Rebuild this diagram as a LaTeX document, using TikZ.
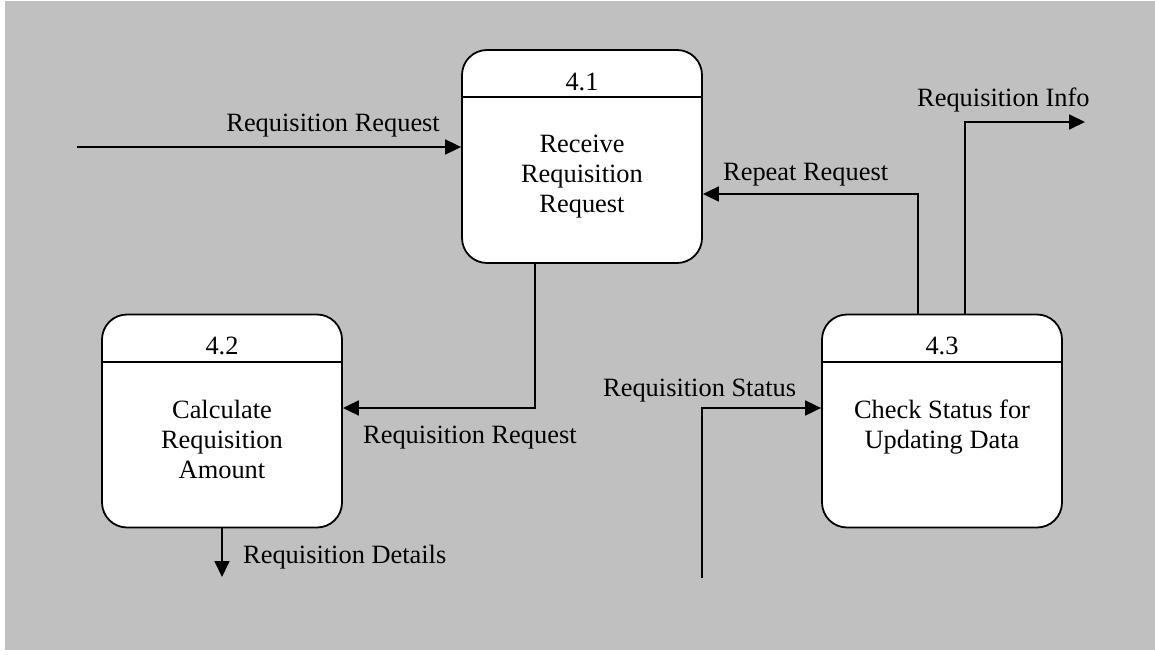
\documentclass[tikz,border=0pt]{standalone}
\usepackage{fontspec}
\setmainfont{Liberation Serif}
\usetikzlibrary{arrows.meta}
\definecolor{bggray}{HTML}{C0C0C0}
\begin{document}
\begin{tikzpicture}[x=1pt,y=-1pt,
  procbox/.style={draw, line width=1.8pt, fill=white, rounded corners=25pt,
    minimum width=240pt, minimum height=213pt, inner sep=0pt},
  divider/.style={line width=1.8pt},
  flow/.style={line width=1.8pt, -{Triangle[length=16pt,width=15pt]}},
  txt/.style={font=\fontsize{26.4}{30}\selectfont, inner sep=0pt},
  body/.style={txt, align=center, anchor=north}
]
\useasboundingbox (0,0) rectangle (1155,655);
\fill[bggray] (4.5,1) rectangle (1155,650);

% process boxes
\node[procbox] (p41) at (582,156.5) {};
\node[procbox] (p42) at (222,421) {};
\node[procbox] (p43) at (942,421) {};

\draw[divider] ([yshift=-48pt]p41.north west) -- ([yshift=-48pt]p41.north east);
\draw[divider] ([yshift=-48pt]p42.north west) -- ([yshift=-48pt]p42.north east);
\draw[divider] ([yshift=-48pt]p43.north west) -- ([yshift=-48pt]p43.north east);

\node[txt, anchor=base] (t41) at ([yshift=-41pt]p41.north) {4.1};
\node[txt, anchor=base] (t42) at ([yshift=-41pt]p42.north) {4.2};
\node[txt, anchor=base] (t43) at ([yshift=-41pt]p43.north) {4.3};

\node[body] (b41) at ([yshift=-86pt]p41.north) {Receive\\Requisition\\Request};
\node[body] (b42) at ([yshift=-86pt]p42.north) {Calculate\\Requisition\\Amount};
\node[body] (b43) at ([yshift=-86pt]p43.north) {Check Status for\\Updating Data};

% coordinates
\coordinate (inA) at (77,147);
\coordinate (rep) at (918,194);
\coordinate (inf) at (965,122);
\coordinate (infEnd) at (1085,122);
\coordinate (req) at (535,408);
\coordinate (det) at (222,577);
\coordinate (stA) at (702,578);
\coordinate (stB) at (702,408);

% flows
\draw[flow] (inA) -- (p41.west |- inA);
\draw[flow] (p43.north -| rep) |- (p41.east |- rep);
\draw[flow] (p43.north -| inf) |- (infEnd);
\draw[flow] (p41.south -| req) |- (p42.east |- req);
\draw[flow] (p42.south) -- (det);
\draw[flow] (stA) -- (stB) -- (p43.west |- stB);

% labels
\node[txt, anchor=base east] (l1) at (440,132) {Requisition Request};
\node[txt, anchor=base west] (l2) at (723,180) {Repeat Request};
\node[txt, anchor=base west] (l3) at (917,107) {Requisition Info};
\node[txt, anchor=base west] (l4) at (363,443) {Requisition Request};
\node[txt, anchor=base west] (l5) at (243,563) {Requisition Details};
\node[txt, anchor=base west] (l6) at (603,396) {Requisition Status};
\end{tikzpicture}
\end{document}
